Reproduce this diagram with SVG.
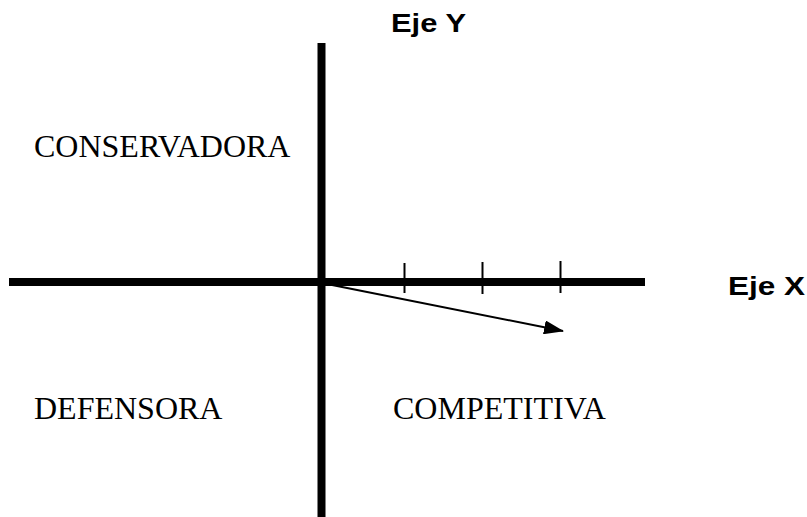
<svg xmlns="http://www.w3.org/2000/svg" width="807" height="517" viewBox="0 0 807 517">
<style>
.axis{stroke:#000;stroke-width:8;fill:none}
.tick{stroke:#000;stroke-width:2;fill:none}
.lbl{font-family:"Liberation Serif","Times New Roman",serif;font-size:32px;fill:#000}
.ax{font-family:"Liberation Sans",Arial,sans-serif;font-size:26px;font-weight:bold;fill:#000}
</style>
<defs>
<marker id="ah" markerWidth="10" markerHeight="8" refX="9" refY="4" orient="auto" markerUnits="userSpaceOnUse" viewBox="0 0 10 8">
<path d="M0,0 L10,4 L0,8 z" fill="#000"/>
</marker>
<marker id="ah2" viewBox="0 0 20 14" refX="19" refY="7" markerWidth="20" markerHeight="14" orient="auto" markerUnits="userSpaceOnUse">
<path d="M0,0 L20,7 L0,14 z" fill="#000"/>
</marker>
</defs>
<rect width="807" height="517" fill="#fff"/>
<g id="axes">
<line class="axis" x1="9" y1="282" x2="645" y2="282"/>
<line class="axis" x1="321.5" y1="43" x2="321.5" y2="517"/>
</g>
<g id="ticks">
<line class="tick" x1="404.5" y1="263" x2="404.5" y2="293"/>
<line class="tick" x1="482.5" y1="262" x2="482.5" y2="294"/>
<line class="tick" x1="560.5" y1="261" x2="560.5" y2="293"/>
</g>
<g id="connectors">
<line x1="322" y1="283" x2="563" y2="331" stroke="#000" stroke-width="2" marker-end="url(#ah2)"/>
</g>
<g id="label-eje-y"><text class="ax" x="391" y="32" textLength="75" lengthAdjust="spacingAndGlyphs">Eje Y</text></g>
<g id="label-eje-x"><text class="ax" x="728" y="295" textLength="77" lengthAdjust="spacingAndGlyphs">Eje X</text></g>
<g id="conservadora"><text class="lbl" x="34" y="157">CONSERVADORA</text></g>
<g id="defensora"><text class="lbl" x="34" y="419">DEFENSORA</text></g>
<g id="competitiva"><text class="lbl" x="393" y="419">COMPETITIVA</text></g>
</svg>
